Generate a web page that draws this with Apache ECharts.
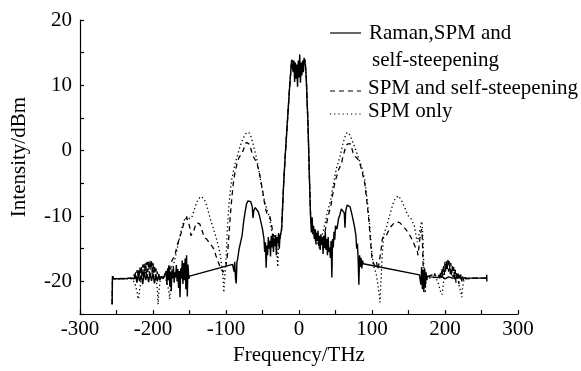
<!DOCTYPE html>
<html><head><meta charset="utf-8">
<script src="https://cdn.jsdelivr.net/npm/echarts@6/dist/echarts.min.js"></script>
<style>html,body{margin:0;padding:0;background:#fff}#c{width:581px;height:371px}</style>
</head><body><div id="c"></div>
<script>
const seriesNames = ['Raman,SPM and\nself-steepening', 'SPM and self-steepening', 'SPM only'];
const xTickLabels = [-300, -200, -100, 0, 100, 200, 300];
const yTickLabels = [-20, -10, 0, 10, 20];

const ramanData = [
[-256,-23.5],[-255.5,-19.2],[-254,-19.6],[-240,-19.6],[-230,-19.5],[-226,-19.6],
[-224,-19.0],[-222,-20.2],[-220,-18.8],[-218,-20.0],[-216,-19.0],[-214,-20.4],[-212,-18.6],[-210,-19.8],[-208,-18.9],[-206,-20.1],[-204,-18.7],[-202,-19.9],[-200,-18.8],[-198,-20.3],[-196,-19.0],[-194,-20.0],[-192,-18.9],[-190,-19.7],[-188,-19.2],[-186,-19.6],[-184,-19.1],
[-182,-18.4],[-181,-20.5],[-180,-18.0],[-179,-19.8],[-178,-17.6],[-177,-20.8],[-176,-18.5],[-175,-21.5],[-174,-18.2],[-173,-19.5],[-172,-17.8],[-171,-20.2],[-170,-18.6],[-169,-19.4],[-168,-17.5],[-167,-20.0],[-166,-18.1],[-165,-21.0],[-164,-18.4],[-163,-22.4],[-162,-18.0],[-161,-19.6],[-160,-16.8],[-159,-20.4],[-158,-17.2],[-157,-19.8],[-156,-16.5],[-155,-21.2],[-154,-16.0],[-153,-22.3],[-152,-17.4],[-151,-19.6],[-150,-19.2],
[-91,-17.4],[-90,-17.3],[-89,-18.5],[-88,-17.0],[-87,-19.5],[-86,-20.3],[-85,-17.0],[-84,-16.5],[-83,-16.8],[-82,-15.0],[-80,-14.0],[-78,-13.0],[-76,-11.0],[-74,-9.5],[-72,-8.2],[-70,-7.7],[-68,-7.5],[-66,-7.8],[-64,-8.6],[-63,-10.3],[-62,-9.2],[-60,-8.7],[-58,-8.8],[-56,-9.3],[-54,-10.0],[-52,-11.0],[-50,-12.0],[-48,-13.5],[-47,-15.5],[-46,-14.0],[-45,-17.9],[-44,-14.5],[-43,-16.0],[-42,-13.2],[-41,-15.0],[-40,-13.8],[-39,-16.2],[-38,-13.0],[-37,-14.8],[-36,-12.8],[-35,-15.5],[-34,-13.4],[-33,-14.6],[-32,-12.9],[-31,-16.0],[-30,-13.2],[-29,-14.2],[-28,-12.6],[-27,-15.0],[-26,-13.0],[-25,-12.8],[-24,-12.2],
[-23,-10.0],[-21,-5.0],[-19,-1.0],[-17,2.5],[-15,6.0],[-13,9.5],[-11,12.5],[-10,13.9],[-9,14.0],
[-8,12.0],[-7,13.8],[-6,10.5],[-5,13.5],[-4,11.0],[-3,13.2],[-2,9.8],[-1,13.8],[0,11.2],[1,14.7],[2,10.4],[3,13.5],[4,11.5],[5,13.8],[6,12.0],[7,14.2],[8,14.2],[9,13.0],[10,11.0],[11,8.0],[12,5.0],[13,1.5],[14,-3.0],[15,-7.0],[16,-10.5],
[17,-12.5],[18,-10.2],[19,-12.8],[20,-11.5],[21,-13.5],[22,-12.0],[23,-14.2],[24,-12.6],[25,-13.8],[26,-12.2],[27,-14.6],[28,-13.0],[29,-15.2],[30,-12.8],[31,-14.4],[32,-13.2],[33,-15.8],[34,-13.0],[35,-14.9],[36,-12.4],[37,-15.2],[38,-13.5],[39,-16.0],[40,-13.2],[41,-15.5],[42,-14.8],[43,-16.4],[44,-13.8],[45,-19.4],[46,-13.5],[47,-14.8],[48,-12.4],[49,-13.6],[50,-11.5],[52,-12.0],[54,-10.5],[56,-9.8],[58,-8.9],[60,-8.8],[62,-9.5],[63,-11.8],[64,-9.2],[66,-8.3],[68,-8.1],[70,-8.6],[72,-9.5],[74,-10.5],[76,-11.6],[78,-13.0],[79,-15.0],[80,-14.2],[81,-16.5],[82,-20.5],[83,-16.0],[84,-17.8],[85,-16.4],[86,-18.0],[87,-16.8],[88,-17.3],
[165,-19.0],[166,-18.8],[167,-20.5],[168,-17.8],[169,-21.2],[170,-18.2],[171,-21.6],[172,-18.0],[173,-20.8],[174,-18.6],[175,-19.8],[176,-19.2],[180,-19.3],[190,-19.4],[195,-19.2],[200,-19.6],[205,-19.3],[210,-19.5],[220,-19.4],[230,-19.5],[240,-19.5],[257,-19.5],[257.2,-19.0],[257.4,-20.0]
];

const spmSsData = [
[-256,-23.5],[-255.5,-19.2],[-254,-19.6],[-228,-19.5],
[-226,-18.9],[-225,-19.8],[-224,-18.6],[-223,-19.6],[-222,-18.3],[-221,-19.9],[-220,-18.0],[-219,-19.4],[-218,-17.8],[-217,-19.7],[-216,-17.6],[-215,-19.2],[-214,-17.4],[-213,-19.5],[-212,-17.3],[-211,-18.9],[-210,-17.1],[-209,-19.3],[-208,-17.0],[-207,-18.6],[-206,-16.9],[-205,-19.0],[-204,-16.8],[-203,-18.4],[-202,-16.9],[-201,-19.1],[-200,-17.2],[-199,-18.7],[-198,-17.6],[-197,-19.4],[-196,-18.0],[-195,-19.0],[-194,-18.5],[-193,-19.6],[-192,-19.0],[-191,-19.8],[-190,-19.3],
[-188,-19.0],[-186,-19.5],[-184,-19.0],[-182,-18.6],[-180,-19.4],[-178,-17.5],[-176,-18.2],[-174,-16.8],[-172,-17.0],[-170,-16.0],[-168,-15.0],[-166,-14.2],[-164,-13.5],[-162,-12.8],[-160,-12.0],[-158,-11.2],[-156,-10.6],[-154,-10.2],[-152,-10.5],[-150,-11.5],[-148,-13.0],[-146,-13.2],[-144,-12.2],[-142,-11.5],[-140,-11.0],[-138,-10.9],[-136,-11.2],[-134,-11.8],[-132,-12.5],[-130,-13.2],[-128,-13.0],[-126,-13.6],[-124,-13.4],[-122,-14.2],[-120,-14.0],[-118,-14.8],[-116,-15.2],[-114,-16.0],[-112,-16.6],[-110,-17.2],[-108,-17.8],[-106,-18.2],[-104,-18.6],[-102,-18.0],[-100,-17.6],[-98,-16.0],[-96,-13.0],[-94,-9.8],[-92,-7.2],[-90,-5.0],[-88,-3.5],[-86,-2.5],[-84,-1.6],[-82,-1.0],[-80,-0.9],[-78,-0.4],[-76,0.2],[-74,0.8],[-72,1.3],[-70,1.4],[-68,1.0],[-66,0.3],[-64,-0.5],[-62,-1.0],[-60,-1.2],[-58,-1.8],[-56,-2.6],[-54,-3.6],[-52,-4.8],[-50,-6.0],[-48,-7.5],[-46,-8.8],[-44,-9.6],[-42,-9.8],[-40,-10.0],[-38,-11.0],[-36,-12.5],[-34,-13.2],[-32,-12.8],[-30,-13.6],[-28,-13.0],[-26,-13.4],[-24,-12.2],
[-23,-10.0],[-21,-5.0],[-19,-1.0],[-17,2.5],[-15,6.0],[-13,9.5],[-11,12.5],[-10,13.9],[-5,13.2],[0,12.8],[5,13.5],[8,14.0],[10,11.0],[12,5.0],[14,-3.0],[16,-10.5],
[18,-11.5],[20,-12.5],[22,-12.0],[24,-13.0],[26,-12.8],[28,-13.6],[30,-13.2],[32,-13.8],[34,-13.0],[36,-12.2],[38,-11.0],[40,-10.0],[42,-9.8],[44,-8.2],[46,-6.8],[48,-5.5],[50,-4.5],[52,-3.8],[54,-3.0],[56,-3.2],[58,-2.0],[60,-1.0],[62,-0.2],[64,0.6],[66,1.0],[68,1.1],[70,1.1],[72,0.5],[74,-0.3],[76,-0.8],[78,-1.0],[80,-1.2],[82,-1.6],[84,-2.2],[86,-3.0],[88,-4.0],[90,-5.0],[92,-6.8],[94,-8.8],[96,-11.0],[98,-14.0],[100,-16.4],[102,-17.2],[104,-17.6],[106,-17.0],[108,-18.2],[110,-17.0],[112,-15.5],[114,-13.6],[116,-13.0],[118,-13.2],[120,-12.9],[122,-12.4],[124,-12.0],[126,-11.6],[128,-11.3],[130,-11.1],[132,-11.0],[134,-10.9],[136,-10.9],[138,-11.0],[140,-11.2],[142,-11.5],[144,-11.8],[146,-12.0],[148,-12.3],[150,-12.6],[152,-13.0],[154,-13.4],[156,-13.8],[158,-14.4],[160,-14.9],[162,-15.3],[163,-16.0],[164,-15.0],[165,-14.0],[166,-13.0],[167,-12.4],[168,-12.0],[169,-13.5],[170,-17.5],[171,-19.8],[172,-18.2],[173,-20.5],[174,-18.8],[176,-19.6],[178,-19.2],[180,-19.4],[182,-19.0],[184,-19.4],[186,-18.8],[188,-19.4],[190,-19.6],
[192,-19.0],[193,-19.8],[194,-18.4],[195,-19.5],[196,-18.0],[197,-19.2],[198,-17.4],[199,-19.0],[200,-17.0],[201,-18.6],[202,-16.8],[203,-18.2],[204,-16.7],[205,-18.5],[206,-16.9],[207,-18.9],[208,-17.2],[209,-19.2],[210,-17.5],[211,-19.4],[212,-17.8],[213,-19.8],[214,-18.2],[215,-20.2],[216,-18.5],[217,-19.6],[218,-18.8],[219,-20.4],[220,-19.0],[221,-19.8],[222,-18.9],[223,-20.0],[224,-19.2],[225,-19.8],[226,-19.2],[228,-19.6],[230,-19.5],[240,-19.5],[257,-19.5]
];

const spmOnlyData = [
[-256,-23.5],[-255.5,-19.2],[-254,-19.6],[-228,-19.6],[-226,-19.8],[-224,-20.6],[-222,-21.5],[-220,-22.7],[-218,-21.0],[-216,-19.5],[-214,-18.4],[-212,-17.8],[-210,-17.4],[-208,-17.1],[-206,-16.9],[-204,-16.8],[-202,-17.0],[-200,-17.4],[-198,-18.0],[-196,-19.2],[-194,-21.4],[-193,-23.5],[-192,-21.5],[-190,-19.8],[-188,-19.2],[-186,-19.0],[-184,-19.3],[-182,-19.8],[-180,-20.5],[-178,-21.8],[-177,-22.7],[-176,-21.2],[-174,-19.0],[-172,-17.6],[-170,-16.6],[-168,-15.6],[-166,-14.6],[-164,-13.5],[-162,-12.5],[-160,-11.6],[-158,-10.9],[-156,-10.3],[-154,-10.0],[-152,-10.0],[-150,-10.4],[-148,-10.6],[-146,-10.0],[-144,-9.2],[-142,-8.5],[-140,-7.9],[-138,-7.4],[-136,-7.1],[-134,-7.0],[-132,-7.1],[-130,-7.4],[-128,-7.9],[-126,-8.6],[-124,-9.4],[-122,-10.2],[-120,-11.0],[-118,-11.7],[-116,-12.4],[-114,-13.1],[-112,-13.9],[-110,-14.8],[-108,-15.9],[-106,-17.5],[-104,-19.5],[-103,-21.7],[-102,-20.0],[-100,-16.5],[-98,-11.5],[-96,-8.3],[-94,-6.0],[-92,-4.3],[-90,-3.2],[-88,-2.2],[-86,-1.4],[-84,-0.6],[-82,0.2],[-80,0.9],[-78,1.5],[-76,2.0],[-74,2.4],[-72,2.8],[-70,2.9],[-68,2.7],[-66,2.2],[-64,1.5],[-62,0.6],[-60,-0.2],[-58,-1.2],[-56,-2.4],[-54,-3.6],[-52,-5.0],[-50,-6.2],[-48,-7.3],[-46,-8.2],[-44,-9.0],[-42,-9.6],[-40,-10.5],[-38,-12.0],[-36,-13.0],[-34,-14.5],[-32,-13.5],[-30,-16.0],[-29,-17.8],[-28,-14.0],[-26,-13.5],[-24,-12.2],
[-23,-10.0],[-21,-5.0],[-19,-1.0],[-17,2.5],[-15,6.0],[-13,9.5],[-11,12.5],[-10,13.9],[-5,13.2],[0,12.8],[5,13.5],[8,14.0],[10,11.0],[12,5.0],[14,-3.0],[16,-10.5],
[18,-11.0],[20,-12.8],[22,-13.5],[24,-14.5],[26,-13.6],[28,-15.0],[30,-14.0],[32,-12.8],[34,-12.0],[36,-11.0],[38,-9.8],[40,-9.0],[42,-8.8],[44,-7.2],[46,-5.8],[48,-4.6],[50,-3.4],[52,-2.4],[54,-1.7],[56,-1.0],[58,0.0],[60,1.0],[62,1.8],[64,2.4],[66,2.8],[67,2.9],[68,2.8],[70,2.4],[72,1.8],[74,1.2],[76,0.6],[78,0.0],[80,-0.6],[82,-1.3],[84,-1.8],[86,-2.6],[88,-3.4],[90,-4.4],[92,-6.2],[94,-8.2],[96,-10.4],[98,-13.0],[100,-15.8],[102,-17.6],[104,-18.2],[106,-19.0],[108,-20.5],[110,-22.2],[111,-23.2],[112,-20.6],[114,-16.0],[116,-13.0],[118,-12.2],[120,-11.6],[122,-10.8],[124,-10.0],[126,-9.2],[128,-8.4],[130,-7.8],[132,-7.3],[134,-7.0],[136,-6.9],[138,-7.1],[140,-7.5],[142,-8.0],[144,-8.5],[146,-9.0],[148,-9.6],[150,-10.0],[152,-10.3],[154,-10.5],[156,-10.6],[158,-11.5],[160,-12.8],[162,-14.0],[164,-13.0],[166,-11.8],[168,-10.8],[169,-11.5],[170,-14.5],[171,-18.0],[172,-20.5],[173,-21.8],[174,-20.0],[176,-19.4],[180,-19.5],[184,-19.4],[188,-19.6],[190,-20.0],[192,-20.8],[194,-21.6],[196,-22.0],[198,-20.0],[200,-17.8],[202,-17.2],[204,-16.9],[206,-17.1],[208,-17.4],[210,-17.8],[212,-18.0],[214,-18.5],[216,-18.9],[218,-19.8],[220,-21.0],[222,-21.8],[223,-22.4],[224,-21.0],[226,-19.8],[228,-19.4],[232,-19.6],[240,-19.5],[257,-19.5]
];

const FONT = 'Liberation Serif';
const chart = echarts.init(document.getElementById('c'), null, {renderer: 'canvas'});
const legendTop = [33, 91, 114];
chart.setOption({
  animation: false,
  backgroundColor: '#fff',
  grid: {left: 80, right: 63, top: 20, bottom: 54},
  xAxis: {
    type: 'value', min: -300, max: 300, interval: 50,
    name: 'Frequency/THz', nameLocation: 'middle', nameGap: 27,
    nameTextStyle: {fontFamily: FONT, fontSize: 21, color: '#000'},
    axisLine: {show: true, onZero: false, lineStyle: {color: '#000', width: 1.2}},
    axisTick: {show: true, inside: true, length: 4, lineStyle: {color: '#000', width: 1.2}},
    axisLabel: {margin: 5, fontFamily: FONT, fontSize: 21, color: '#000',
      formatter: v => xTickLabels.indexOf(v) >= 0 ? String(v) : ''},
    splitLine: {show: false}
  },
  yAxis: {
    type: 'value', min: -25, max: 20, interval: 5,
    name: 'Intensity/dBm', nameLocation: 'middle', nameGap: 50,
    nameTextStyle: {fontFamily: FONT, fontSize: 21, color: '#000', padding: [0, 0, 0, 20]},
    axisLine: {show: true, onZero: false, lineStyle: {color: '#000', width: 1.2}},
    axisTick: {show: true, inside: true, length: 4, lineStyle: {color: '#000', width: 1.2}},
    axisLabel: {margin: 8, fontFamily: FONT, fontSize: 21, color: '#000',
      formatter: v => yTickLabels.indexOf(v) >= 0 ? String(v) : ''},
    splitLine: {show: false}
  },
  legend: {show: false},
  graphic: [
    {type: 'line', shape: {x1: 330, y1: legendTop[0], x2: 361, y2: legendTop[0]}, style: {stroke: '#000', lineWidth: 1.2}},
    {type: 'text', x: 369, y: 33, style: {text: 'Raman,SPM and', font: '21px "Liberation Serif"', fill: '#000', verticalAlign: 'middle'}},
    {type: 'text', x: 372, y: 60, style: {text: 'self-steepening', font: '21px "Liberation Serif"', fill: '#000', verticalAlign: 'middle'}},
    {type: 'line', shape: {x1: 330, y1: legendTop[1], x2: 361, y2: legendTop[1]}, style: {stroke: '#000', lineWidth: 1.2, lineDash: [5, 4]}},
    {type: 'text', x: 368, y: 88, style: {text: 'SPM and self-steepening', font: '21px "Liberation Serif"', fill: '#000', verticalAlign: 'middle'}},
    {type: 'line', shape: {x1: 330, y1: legendTop[2], x2: 361, y2: legendTop[2]}, style: {stroke: '#000', lineWidth: 1.2, lineDash: [1.2, 3]}},
    {type: 'text', x: 368, y: 111, style: {text: 'SPM only', font: '21px "Liberation Serif"', fill: '#000', verticalAlign: 'middle'}}
  ],
  series: [
    {name: seriesNames[2], type: 'line', data: spmOnlyData, showSymbol: false, symbol: 'none',
      lineStyle: {color: '#000', width: 1.3, type: [1.3, 2.7]}},
    {name: seriesNames[1], type: 'line', data: spmSsData, showSymbol: false, symbol: 'none',
      lineStyle: {color: '#000', width: 1.3, type: [5, 4]}},
    {name: seriesNames[0], type: 'line', data: ramanData, showSymbol: false, symbol: 'none',
      lineStyle: {color: '#000', width: 1.4}}
  ]
});
</script></body></html>
